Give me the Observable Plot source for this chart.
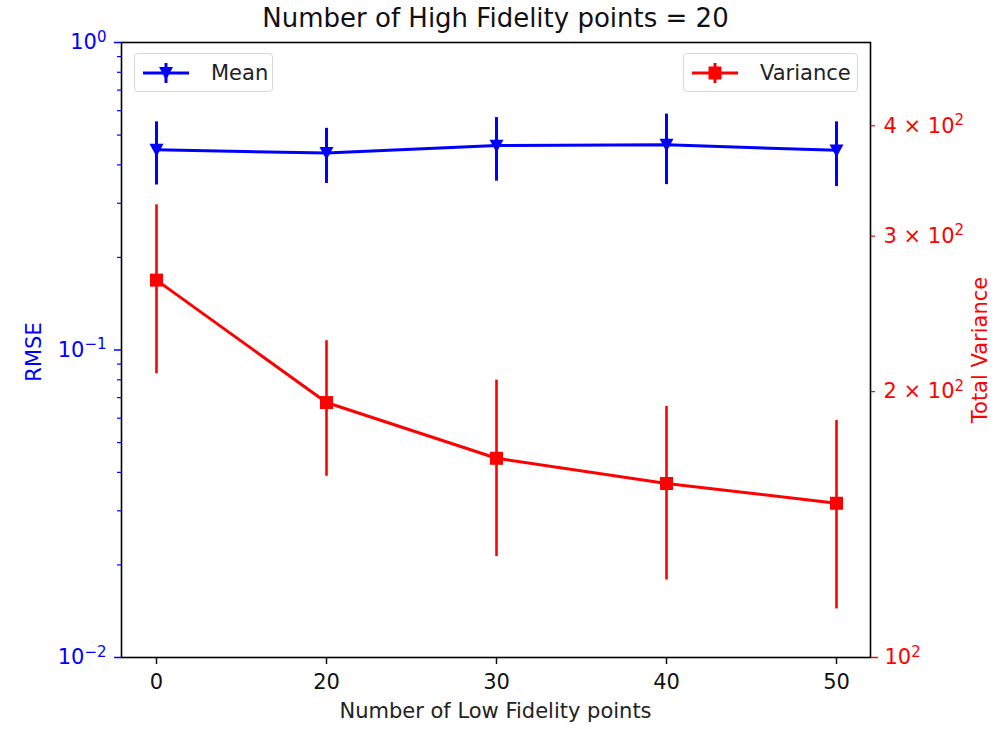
<!DOCTYPE html>
<html>
<head>
<meta charset="utf-8">
<script src="https://cdn.jsdelivr.net/npm/d3@7"></script>
<script src="https://cdn.jsdelivr.net/npm/@observablehq/plot@0.6"></script>
<style>
  body { margin: 0; background: #fff; font-family: "DejaVu Sans", sans-serif; }
  #wrap { position: relative; width: 1003px; height: 729px; overflow: hidden; background: #fff; }
  #wrap svg.plot { position: absolute; left: 0; top: 0; }
  .lbl { position: absolute; white-space: nowrap; line-height: 1; }
  .legend { position: absolute; box-sizing: border-box; border: 1px solid #d6d6d6; border-radius: 4px;
            background: rgba(255,255,255,0.85); display: flex; align-items: center; }
  .legend span { font-size: 21px; color: #222; }
</style>
</head>
<body>
<div id="wrap"></div>
<script>
// ---- data ----
const lowFidelity = ["0", "20", "30", "40", "50"];
const rmseMean = [0.448, 0.437, 0.462, 0.465, 0.446];
const rmseStd  = [0.104, 0.089, 0.108, 0.120, 0.106];
const varMean  = [267.5, 194.4, 168.1, 157.4, 149.5];
const varStd   = [58, 34, 38, 35, 36];
const seriesNames = ["Mean", "Variance"];

const titleText = "Number of High Fidelity points = 20";
const xLabel = "Number of Low Fidelity points";
const yLeftLabel = "RMSE";
const yRightLabel = "Total Variance";

// tick labels: "^" marks the start of a superscript
const leftMajor = [0.01, 0.1, 1];
const leftMajorLabels = ["10^−2", "10^−1", "10^0"];
const leftMinor = [2, 3, 4, 5, 6, 7, 8, 9].flatMap(k => [k * 0.01, k * 0.1]);
const rightMajor = [100];
const rightMajorLabels = ["10^2"];
const rightMinor = [200, 300, 400];
const rightMinorLabels = ["2 × 10^2", "3 × 10^2", "4 × 10^2"];

const blue = "#0000ff", red = "#ff0000";

// ---- tables ----
const rmseData = lowFidelity.map((x, i) => ({x, y: rmseMean[i], lo: rmseMean[i] - rmseStd[i], hi: rmseMean[i] + rmseStd[i]}));
const varData = lowFidelity.map((x, i) => ({x, y: varMean[i], lo: varMean[i] - varStd[i], hi: varMean[i] + varStd[i]}));

const triDown = {draw(ctx, size) { const r = Math.sqrt(size / Math.PI); ctx.moveTo(-r, -r * 0.85); ctx.lineTo(r, -r * 0.85); ctx.lineTo(0, r); ctx.closePath(); }};
const squareSym = {draw(ctx, size) { const r = Math.sqrt(size / Math.PI); ctx.rect(-r, -r, 2 * r, 2 * r); }};

const W = 1003, H = 729;
const margins = {marginLeft: 121, marginRight: 133, marginTop: 42, marginBottom: 72};
const style = {fontFamily: "DejaVu Sans", fontSize: "21px", background: "transparent", overflow: "visible"};
const xScale = {type: "point", domain: lowFidelity, padding: 0.2};

const left = Plot.plot({
  width: W, height: H, ...margins, style,
  x: xScale,
  y: {type: "log", domain: [0.01, 1]},
  marks: [
    Plot.frame({stroke: "#000", strokeWidth: 1.6}),
    Plot.axisX({anchor: "bottom", tickSize: 7, tickPadding: 10, strokeWidth: 1.5, color: "#111", fontSize: 21, label: null}),
    Plot.axisY(leftMajor, {anchor: "left", tickSize: 7, tickPadding: 8, strokeWidth: 1.5, color: blue, fontSize: 21, label: null,
      tickFormat: d => leftMajorLabels[leftMajor.indexOf(d)]}),
    Plot.axisY(leftMinor, {anchor: "left", tickSize: 4, strokeWidth: 1.2, color: blue, label: null, tickFormat: () => ""}),
    Plot.ruleX(rmseData, {x: "x", y1: "lo", y2: "hi", stroke: blue, strokeWidth: 3}),
    Plot.line(rmseData, {x: "x", y: "y", stroke: blue, strokeWidth: 3}),
    Plot.dot(rmseData, {x: "x", y: "y", symbol: triDown, r: 7, fill: blue})
  ]
});
left.classList.add("plot");

const right = Plot.plot({
  width: W, height: H, ...margins, style,
  x: {...xScale, axis: null},
  y: {type: "log", domain: [100, 497]},
  marks: [
    Plot.axisY(rightMajor, {anchor: "right", tickSize: 7, tickPadding: 7, strokeWidth: 1.5, color: red, fontSize: 21, label: null,
      tickFormat: d => rightMajorLabels[rightMajor.indexOf(d)]}),
    Plot.axisY(rightMinor, {anchor: "right", tickSize: 4, tickPadding: 9, strokeWidth: 1.2, color: red, fontSize: 21, label: null,
      tickFormat: d => rightMinorLabels[rightMinor.indexOf(d)]}),
    Plot.ruleX(varData, {x: "x", y1: "lo", y2: "hi", stroke: red, strokeWidth: 2.6}),
    Plot.line(varData, {x: "x", y: "y", stroke: red, strokeWidth: 3}),
    Plot.dot(varData, {x: "x", y: "y", symbol: squareSym, r: 6.5, fill: red})
  ]
});
right.classList.add("plot");

// turn "base^sup" tick labels into real superscripts
const NS = "http://www.w3.org/2000/svg";
function superscripts(svg) {
  svg.querySelectorAll("text").forEach(t => {
    const s = t.textContent;
    const k = s.indexOf("^");
    if (k < 0) return;
    t.textContent = "";
    const a = document.createElementNS(NS, "tspan");
    a.textContent = s.slice(0, k);
    const b = document.createElementNS(NS, "tspan");
    b.textContent = s.slice(k + 1);
    b.setAttribute("dy", "-7.5");
    b.setAttribute("font-size", "15");
    t.appendChild(a); t.appendChild(b);
  });
}
superscripts(left);
superscripts(right);

const wrap = document.getElementById("wrap");
wrap.appendChild(left);
wrap.appendChild(right);

function addLabel(text, css) {
  const d = document.createElement("div");
  d.className = "lbl";
  d.textContent = text;
  Object.assign(d.style, css);
  wrap.appendChild(d);
  return d;
}
addLabel(titleText, {left: "121px", width: "749px", textAlign: "center", top: "5px", fontSize: "26px", color: "#111"});
addLabel(xLabel, {left: "121px", width: "749px", textAlign: "center", top: "701px", fontSize: "21px", color: "#222"});
addLabel(yLeftLabel, {left: "33.5px", top: "352px", fontSize: "21px", color: blue, transform: "translate(-50%,-50%) rotate(-90deg)"});
addLabel(yRightLabel, {left: "980px", top: "350px", fontSize: "21px", color: red, transform: "translate(-50%,-50%) rotate(-90deg)"});

function addLegend(name, color, marker, css) {
  const box = document.createElement("div");
  box.className = "legend";
  Object.assign(box.style, css);
  const s = document.createElementNS(NS, "svg");
  s.setAttribute("width", "60"); s.setAttribute("height", "36");
  s.style.marginLeft = "6px"; s.style.flex = "none";
  const ln = document.createElementNS(NS, "line");
  ln.setAttribute("x1", "2"); ln.setAttribute("x2", "48"); ln.setAttribute("y1", "18"); ln.setAttribute("y2", "18");
  ln.setAttribute("stroke", color); ln.setAttribute("stroke-width", "3");
  s.appendChild(ln);
  const vl = document.createElementNS(NS, "line");
  vl.setAttribute("x1", "25"); vl.setAttribute("x2", "25"); vl.setAttribute("y1", "8"); vl.setAttribute("y2", "28");
  vl.setAttribute("stroke", color); vl.setAttribute("stroke-width", "3");
  s.appendChild(vl);
  const p = document.createElementNS(NS, "path");
  p.setAttribute("d", marker); p.setAttribute("fill", color); p.setAttribute("transform", "translate(25,18)");
  s.appendChild(p);
  box.appendChild(s);
  const t = document.createElement("span");
  t.textContent = name;
  t.style.marginLeft = "10px";
  box.appendChild(t);
  wrap.appendChild(box);
}
addLegend(seriesNames[0], blue, "M-7,-6L7,-6L0,7Z", {left: "134px", top: "53px", width: "139px", height: "39px"});
addLegend(seriesNames[1], red, "M-6.5,-6.5h13v13h-13Z", {left: "683px", top: "53px", width: "175px", height: "39px"});
</script>
</body>
</html>
